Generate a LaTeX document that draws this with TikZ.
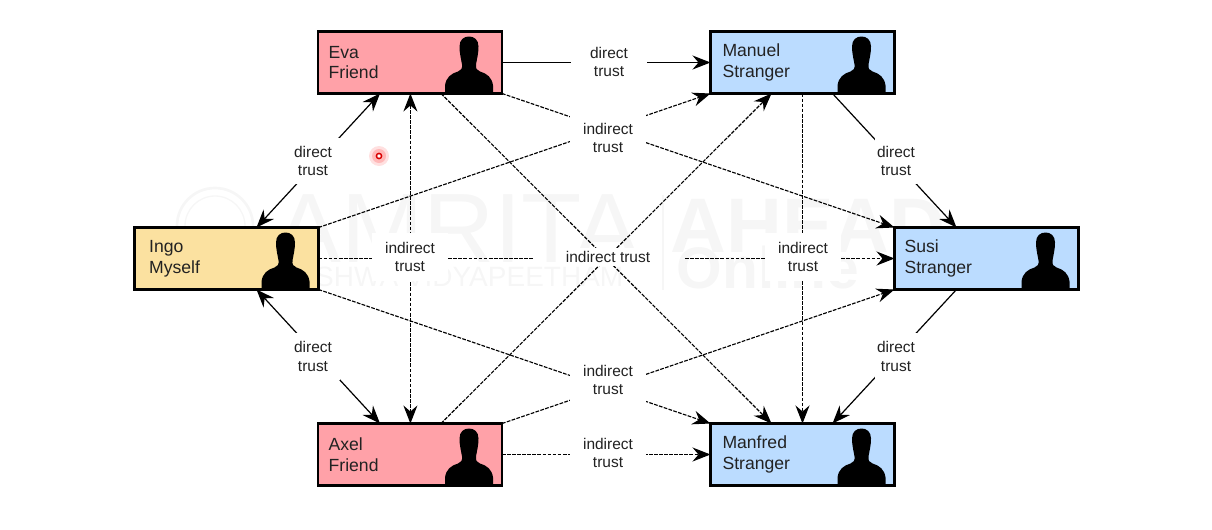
\documentclass[tikz,border=0pt]{standalone}
\usepackage{fontspec}
\setmainfont{Liberation Sans}
\usetikzlibrary{arrows.meta,calc,backgrounds}
\definecolor{friendc}{HTML}{FFA1A8}
\definecolor{strangerc}{HTML}{BBDCFF}
\definecolor{selfc}{HTML}{FBE1A0}
\definecolor{inkc}{HTML}{222222}
\definecolor{markc}{HTML}{F6F6F6}
\tikzset{
  >={Stealth[length=13.5pt,width=10.5pt,inset=4.5pt]},
  person/.style={draw=black,line width=1.8pt,minimum width=138pt,minimum height=46.5pt,
    outer sep=0pt,inner sep=0pt,text width=122pt,align=left,text=inkc,
    font=\fontsize{13.2}{15.6}\selectfont},
  lab/.style={fill=white,inner sep=0pt,align=center,text=inkc,
    font=\fontsize{11.6}{14}\selectfont},
  dirlab/.style={lab,minimum width=32pt,minimum height=35pt},
  dirlabwide/.style={lab,minimum width=40.5pt,minimum height=35pt},
  indlab/.style={lab,minimum width=57pt,minimum height=36pt},
  onelab/.style={lab,minimum width=61pt,minimum height=13.5pt},
  solidline/.style={line width=0.9pt,black},
  dashline/.style={line width=0.85pt,black,dash pattern=on 2.8pt off 1pt},
  wmark/.style={text=markc,inner sep=0pt,anchor=base},
  pics/silhouette/.style={code={
    \fill[black] (-24,1) -- (-24,-8) .. controls (-23,-16) and (-18,-20) .. (-11,-22)
      .. controls (-8,-23) and (-6.5,-25) .. (-7,-29)
      .. controls (-8,-35) and (-9.5,-40) .. (-9.5,-47)
      .. controls (-9.5,-54) and (-5,-57) .. (0,-57)
      .. controls (5,-57) and (9.5,-54) .. (9.5,-47)
      .. controls (9.5,-40) and (8,-35) .. (7,-29)
      .. controls (6.5,-25) and (8,-23) .. (11,-22)
      .. controls (18,-20) and (23,-16) .. (24,-8) -- (24,1) -- cycle;
  }}
}
\begin{document}
\begin{tikzpicture}[x=0.75pt,y=-0.75pt]
\useasboundingbox (0,0) rectangle (1212,529);
% persons
\node[person,fill=friendc] (eva) at (410,62.5) {Eva\\Friend};
\node[person,fill=strangerc] (manuel) at (802.5,62.5) {\hspace*{1pt}Manuel\\\hspace*{1pt}Stranger};
\node[person,fill=selfc] (ingo) at (226.5,258.5) {\hspace*{3pt}Ingo\\\hspace*{3pt}Myself};
\node[person,fill=strangerc] (susi) at (986.5,258.5) {\hspace*{-0.5pt}Susi\\\hspace*{-0.5pt}Stranger};
\node[person,fill=friendc] (axel) at (410,454.5) {Axel\\Friend};
\node[person,fill=strangerc] (manfred) at (802.5,454.5) {\hspace*{1pt}Manfred\\\hspace*{1pt}Stranger};
\foreach \n in {eva,manuel,ingo,susi,axel,manfred}
  \pic at ($(\n.south east)+(-33,0)$) {silhouette};
\draw[black,line width=1.8pt] (eva.south west) rectangle (eva.north east)
  (manuel.south west) rectangle (manuel.north east)
  (ingo.south west) rectangle (ingo.north east)
  (susi.south west) rectangle (susi.north east)
  (axel.south west) rectangle (axel.north east)
  (manfred.south west) rectangle (manfred.north east);
% trust labels
\node[dirlabwide] (l1) at (313,161) {direct\\trust};
\node[dirlabwide] (l2) at (313,356.5) {direct\\trust};
\node[dirlab] (l3) at (896,161) {direct\\trust};
\node[dirlab] (l4) at (896,356.5) {direct\\trust};
\node[indlab] (l5) at (609,62) {direct\\trust};
\node[indlab] (l6) at (608,138) {indirect\\trust};
\node[indlab] (l7) at (608,380) {indirect\\trust};
\node[indlab] (l8) at (608,453) {indirect\\trust};
\node[indlab] (l9) at (410,257) {indirect\\trust};
\node[indlab] (l10) at (803,257) {indirect\\trust};
\node[onelab] (l11) at (608,257) {indirect trust};
\coordinate (gapa) at (533,258.5);
\coordinate (gapb) at (685,258.5);
\begin{scope}[on background layer]
  % faint watermark
  \draw[markc,line width=2pt] (215,226) circle (38);
  \draw[markc,line width=1pt] (215,226) circle (30);
  \node[wmark,font=\fontsize{74}{74}\selectfont] (wm1) at (458,262) {AMRITA};
  \node[wmark,font=\fontsize{21}{21}\selectfont] (wm2) at (456,286) {VISHWA VIDYAPEETHAM};
  \draw[markc,line width=1pt] (663,195) -- (663,290);
  \node[wmark,font=\bfseries\fontsize{58}{58}\selectfont] (wm3) at (808,252) {AHEAD};
  \node[wmark,font=\bfseries\fontsize{44}{44}\selectfont] (wm4) at (768,288) {Online};
  % direct trust
  \draw[solidline,<->] ($(ingo.north west)+(122,0)$) -- ($(eva.south west)+(62,0)$);
  \draw[solidline,<->] ($(ingo.south west)+(122,0)$) -- ($(axel.north west)+(62,0)$);
  \draw[solidline,->] (eva.east) -- (manuel.west);
  \draw[solidline,->] ($(manuel.south west)+(122,0)$) -- ($(susi.north west)+(62,0)$);
  \draw[solidline,->] ($(susi.south west)+(62,0)$) -- ($(manfred.north west)+(122,0)$);
  % indirect trust
  \draw[dashline,<->] ($(eva.south west)+(92.4,0)$) -- ($(axel.north west)+(92.4,0)$);
  \draw[dashline,->] ($(manuel.south west)+(92,0)$) -- ($(manfred.north west)+(92,0)$);
  \draw[dashline,->] ($(eva.south west)+(123,0)$) -- ($(manfred.north west)+(61,0)$);
  \draw[dashline,->] ($(axel.north west)+(123,0)$) -- ($(manuel.south west)+(61,0)$);
  \draw[dashline,->] (eva.south east) -- (susi.north west);
  \draw[dashline,->] (ingo.north east) -- (manuel.south west);
  \draw[dashline,->] (ingo.south east) -- (manfred.north west);
  \draw[dashline,->] (axel.north east) -- (susi.south west);
  \draw[dashline,->] (axel.east) -- (manfred.west);
  \draw[dashline] (ingo.east) -- (ingo.east -| l9.west);
  \draw[dashline] (ingo.east -| l9.east) -- (gapa);
  \draw[dashline] (gapb) -- (susi.west -| l10.west);
  \draw[dashline,->] (susi.west -| l10.east) -- (susi.west);
\end{scope}
% cursor marker
\fill[red!12] (379,156) circle (10);
\fill[red!28] (379,156) circle (7);
\draw[red!85!black,line width=1.1pt,fill=white] (379,156) circle (2.6);
\end{tikzpicture}
\end{document}
